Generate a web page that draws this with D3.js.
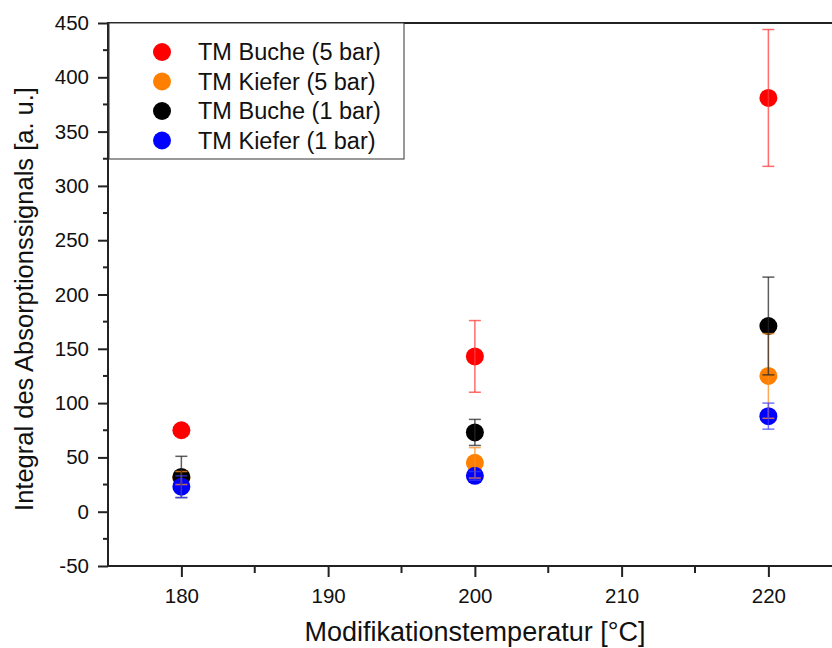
<!DOCTYPE html>
<html>
<head>
<meta charset="utf-8">
<script src="https://cdn.jsdelivr.net/npm/d3@7"></script>
<style>
  body { margin: 0; background: #fff; }
  svg text { font-family: "Liberation Sans", Arial, sans-serif; fill: #111; }
</style>
</head>
<body>
<div id="chart"></div>
<script>
// temperatures (°C)
const temps = [180, 200, 220]

// series names and colours
const seriesNames = ['TM Buche (5 bar)', 'TM Kiefer (5 bar)', 'TM Buche (1 bar)', 'TM Kiefer (1 bar)']
const seriesColors = ['#ff0000', '#ff8000', '#000000', '#0000ff']

// mean values per series
const buche5 = [75, 143, 381]
const kiefer5 = [31, 45, 125]
const buche1 = [32, 73, 171]
const kiefer1 = [23, 33, 88]

// error (+/-) per series, 0 = not visible
const buche5Err = [0, 33, 63]
const kiefer5Err = [6, 14, 39]
const buche1Err = [19, 12, 45]
const kiefer1Err = [10, 4, 12]

const yTicks = [-50, 0, 50, 100, 150, 200, 250, 300, 350, 400, 450]
const xTicks = [180, 190, 200, 210, 220]

const values = [buche5, kiefer5, buche1, kiefer1]
const errors = [buche5Err, kiefer5Err, buche1Err, kiefer1Err]
const errColors = ['rgba(255,60,60,0.75)', 'rgba(255,140,30,0.75)', 'rgba(40,40,40,0.75)', 'rgba(60,60,255,0.7)']

const W = 832
const H = 648
const M = { left: 108, top: 23, bottom: 82 }

const svg = d3.select('#chart').append('svg')
  .attr('width', W)
  .attr('height', H)

// x runs past the right border (picture is cropped there)
const x = d3.scaleLinear().domain([175, 225]).range([M.left, M.left + 14.675 * 50])
const y = d3.scaleLinear().domain([-50, 450]).range([H - M.bottom, M.top])

// --- AXES ---
const yAxis = svg.append('g')
  .attr('transform', `translate(${M.left},0)`)
  .call(d3.axisLeft(y).tickValues(yTicks).tickFormat(d => String(d)).tickSize(10).tickPadding(9).tickSizeOuter(0))
yAxis.select('.domain').remove()
yAxis.selectAll('.tick line').attr('stroke', '#222').attr('stroke-width', 2)
yAxis.selectAll('.tick text').style('font-size', '20.5px')

// minor y ticks
svg.append('g').selectAll('line')
  .data(d3.range(-25, 450, 50))
  .enter().append('line')
  .attr('x1', M.left - 5).attr('x2', M.left)
  .attr('y1', d => y(d)).attr('y2', d => y(d))
  .attr('stroke', '#222').attr('stroke-width', 2)

const xAxis = svg.append('g')
  .attr('transform', `translate(0,${H - M.bottom})`)
  .call(d3.axisBottom(x).tickValues(xTicks).tickFormat(d3.format('d')).tickSize(11).tickPadding(11).tickSizeOuter(0))
xAxis.select('.domain').remove()
xAxis.selectAll('.tick line').attr('stroke', '#222').attr('stroke-width', 2)
xAxis.selectAll('.tick text').style('font-size', '20.5px')

// minor x ticks
svg.append('g').selectAll('line')
  .data([185, 195, 205, 215])
  .enter().append('line')
  .attr('x1', d => x(d)).attr('x2', d => x(d))
  .attr('y1', H - M.bottom).attr('y2', H - M.bottom + 7)
  .attr('stroke', '#222').attr('stroke-width', 2)

// frame lines: left, bottom, top
svg.append('line')
  .attr('x1', M.left).attr('x2', M.left)
  .attr('y1', M.top - 1).attr('y2', H - M.bottom + 1)
  .attr('stroke', '#222').attr('stroke-width', 2)
svg.append('line')
  .attr('x1', M.left).attr('x2', W)
  .attr('y1', H - M.bottom).attr('y2', H - M.bottom)
  .attr('stroke', '#222').attr('stroke-width', 2)
svg.append('line')
  .attr('x1', M.left).attr('x2', W)
  .attr('y1', M.top).attr('y2', M.top)
  .attr('stroke', '#222').attr('stroke-width', 2)

// axis titles
svg.append('text')
  .attr('x', 475).attr('y', 641)
  .attr('text-anchor', 'middle')
  .style('font-size', '27px')
  .text('Modifikationstemperatur [°C]')

svg.append('text')
  .attr('transform', 'translate(33,299) rotate(-90)')
  .attr('text-anchor', 'middle')
  .style('font-size', '25.5px')
  .text('Integral des Absorptionssignals [a. u.]')

// --- POINTS ---
const plot = svg.append('g')
values.forEach((vals, i) => {
  plot.append('g').selectAll('circle')
    .data(vals)
    .enter().append('circle')
    .attr('cx', (d, j) => x(temps[j]))
    .attr('cy', d => y(d))
    .attr('r', 9)
    .attr('fill', seriesColors[i])
})

// error bars drawn on top of the points
const capW = 6
values.forEach((vals, i) => {
  const g = plot.append('g')
    .attr('stroke', errColors[i])
    .attr('stroke-width', 1.5)
  vals.forEach((v, j) => {
    const e = errors[i][j]
    if (!e) return
    const cx = x(temps[j])
    g.append('line').attr('x1', cx).attr('x2', cx).attr('y1', y(v - e)).attr('y2', y(v + e))
    g.append('line').attr('x1', cx - capW).attr('x2', cx + capW).attr('y1', y(v + e)).attr('y2', y(v + e))
    g.append('line').attr('x1', cx - capW).attr('x2', cx + capW).attr('y1', y(v - e)).attr('y2', y(v - e))
  })
})

// --- LEGEND ---
const legend = svg.append('g')
legend.append('rect')
  .attr('x', M.left + 1).attr('y', M.top)
  .attr('width', 295).attr('height', 136)
  .attr('fill', '#fff')
  .attr('stroke', '#333').attr('stroke-width', 1)

const items = legend.selectAll('g.item')
  .data(seriesNames)
  .enter().append('g')
  .attr('class', 'item')
  .attr('transform', (d, i) => `translate(162,${52 + i * 29.5})`)
items.append('circle')
  .attr('r', 9)
  .attr('fill', (d, i) => seriesColors[i])
items.append('text')
  .attr('x', 36)
  .attr('dy', '0.36em')
  .style('font-size', '23.5px')
  .text(d => d)
</script>
</body>
</html>
